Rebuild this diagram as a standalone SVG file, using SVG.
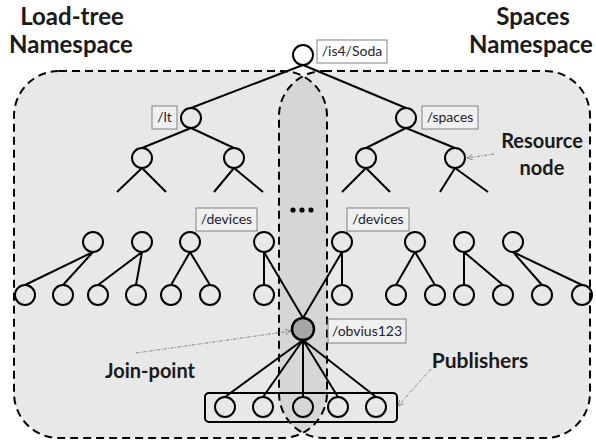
<svg xmlns="http://www.w3.org/2000/svg" width="596" height="444" viewBox="0 0 596 444">
<style>
.ns{stroke:#000;stroke-width:2;stroke-dasharray:8 5;fill:none}
.n{fill:none;stroke:#000;stroke-width:2}
.e{stroke:#000;stroke-width:2;fill:none}
.lb{fill:#f0f0f0;stroke:#808080;stroke-width:1}
.lt{font-family:Lato,"Liberation Sans",sans-serif;font-size:14px;fill:#1e1e30;text-anchor:middle}
.bt{font-family:Lato,"Liberation Sans",sans-serif;font-weight:bold;fill:#1a1a1a;text-anchor:middle}
.call{stroke:#7f7f7f;stroke-width:1;stroke-dasharray:3 1.5 1 1.5;fill:none;marker-end:url(#ah)}
</style>
<defs>
<marker id="ah" viewBox="0 0 10 10" refX="9" refY="5" markerWidth="7" markerHeight="7" orient="auto" markerUnits="userSpaceOnUse">
<path d="M1,1 L9,5 L1,9" fill="none" stroke="#7f7f7f" stroke-width="1.2"/>
</marker>
<clipPath id="cl"><rect x="14" y="71" width="313" height="367" rx="45"/></clipPath>
</defs>
<rect width="596" height="444" fill="#fff"/>
<g id="namespaces">
<rect x="14" y="71" width="313" height="367" rx="45" fill="#e8e8e8"/>
<rect x="279" y="71" width="311" height="367" rx="45" fill="#e8e8e8"/>
<rect x="279" y="71" width="311" height="367" rx="45" fill="#d6d6d6" clip-path="url(#cl)"/>
<rect class="ns" x="14" y="71" width="313" height="367" rx="45"/>
<rect class="ns" x="279" y="71" width="311" height="367" rx="45"/>
</g>
<g id="titles">
<text class="bt" x="72" y="25" font-size="24">Load-tree</text>
<text class="bt" x="71" y="53" font-size="24">Namespace</text>
<text class="bt" x="533" y="25" font-size="24">Spaces</text>
<text class="bt" x="531" y="53" font-size="24">Namespace</text>
</g>
<g id="connectors">
<path class="e" d="M303,65 L191,108 M303,65 L406,108"/>
<path class="e" d="M191,128 L142,148 M191,128 L234,148 M406,128 L366,148 M406,128 L455,148"/>
<path class="e" d="M142,168 L117,192 M142,168 L166,192 M234,168 L214,192 M234,168 L263,192 M366,168 L342,192 M366,168 L390,192 M455,168 L440,192 M455,168 L488,192"/>
<path class="e" d="M93,252 L25,285 M93,252 L63,285 M142,252 L98,285 M142,252 L136,285 M190,252 L171,285 M190,252 L210,285 M264,252 L264,285 M264,252 L303,318"/>
<path class="e" d="M342,252 L342,285 M342,252 L303,318 M415,252 L396,285 M415,252 L435,285 M464,252 L464,285 M464,252 L503,285 M513,252 L542,285 M513,252 L582,285"/>
<path class="e" d="M303,340 L225,397 M303,340 L263,397 M303,340 L303,397 M303,340 L338,397 M303,340 L376,397"/>
</g>
<g id="root"><circle class="n" cx="303" cy="55" r="10"/><rect class="lb" x="317" y="40" width="70" height="23" fill="#fff" style="fill:#fff"/><text class="lt" x="352" y="56">/is4/Soda</text></g>
<g id="lt"><circle class="n" cx="191" cy="118" r="10"/><rect class="lb" x="152" y="106" width="25" height="23"/><text class="lt" x="164.5" y="122">/lt</text></g>
<g id="spaces"><circle class="n" cx="406" cy="118" r="10"/><rect class="lb" x="422" y="106" width="56" height="23"/><text class="lt" x="450" y="122">/spaces</text></g>
<g id="l3a"><circle class="n" cx="142" cy="158" r="10"/></g>
<g id="l3b"><circle class="n" cx="234" cy="158" r="10"/></g>
<g id="l3c"><circle class="n" cx="366" cy="158" r="10"/></g>
<g id="l3d"><circle class="n" cx="455" cy="158" r="10"/></g>
<g id="dots"><circle cx="293" cy="210" r="2.6"/><circle cx="302" cy="210" r="2.6"/><circle cx="311" cy="210" r="2.6"/></g>
<g id="dev1"><circle class="n" cx="93" cy="242" r="10"/></g>
<g id="dev2"><circle class="n" cx="142" cy="242" r="10"/></g>
<g id="dev3"><circle class="n" cx="190" cy="242" r="10"/></g>
<g id="dev4"><circle class="n" cx="264" cy="242" r="10"/></g>
<g id="devlabel-left"><rect class="lb" x="196" y="208" width="61" height="23"/><text class="lt" x="226.5" y="224">/devices</text></g>
<g id="dev5"><circle class="n" cx="342" cy="242" r="10"/></g>
<g id="devlabel-right"><rect class="lb" x="347" y="208" width="62" height="23"/><text class="lt" x="378" y="224">/devices</text></g>
<g id="dev6"><circle class="n" cx="415" cy="242" r="10"/></g>
<g id="dev7"><circle class="n" cx="464" cy="242" r="10"/></g>
<g id="dev8"><circle class="n" cx="513" cy="242" r="10"/></g>
<g id="leaves">
<circle class="n" cx="25" cy="295" r="10"/><circle class="n" cx="63" cy="295" r="10"/><circle class="n" cx="98" cy="295" r="10"/><circle class="n" cx="136" cy="295" r="10"/><circle class="n" cx="171" cy="295" r="10"/><circle class="n" cx="210" cy="295" r="10"/><circle class="n" cx="264" cy="295" r="10"/>
<circle class="n" cx="342" cy="295" r="10"/><circle class="n" cx="396" cy="295" r="10"/><circle class="n" cx="435" cy="295" r="10"/><circle class="n" cx="464" cy="295" r="10"/><circle class="n" cx="503" cy="295" r="10"/><circle class="n" cx="542" cy="295" r="10"/><circle class="n" cx="582" cy="295" r="10"/>
</g>
<g id="joinpoint"><circle cx="303" cy="329" r="11" fill="#a6a6a6" stroke="#000" stroke-width="2.5"/><rect class="lb" x="328" y="319" width="78" height="24"/><text class="lt" x="367" y="336">/obvius123</text></g>
<g id="publishers">
<rect x="205" y="393" width="192" height="29" rx="4" fill="none" stroke="#000" stroke-width="2"/>
<circle class="n" cx="225" cy="407" r="10"/><circle class="n" cx="263" cy="407" r="10"/><circle class="n" cx="303" cy="407" r="10"/><circle class="n" cx="338" cy="407" r="10"/><circle class="n" cx="376" cy="407" r="10"/>
</g>
<g id="callouts">
<path class="call" d="M494,154 L467,158"/>
<path class="call" d="M136,353 L291,331"/>
<path class="call" d="M431,369 L398,406"/>
<text class="bt" x="542" y="148" font-size="20">Resource</text>
<text class="bt" x="542" y="175" font-size="20">node</text>
<text class="bt" x="150" y="378" font-size="20">Join-point</text>
<text class="bt" x="480" y="368" font-size="21">Publishers</text>
</g>
</svg>
